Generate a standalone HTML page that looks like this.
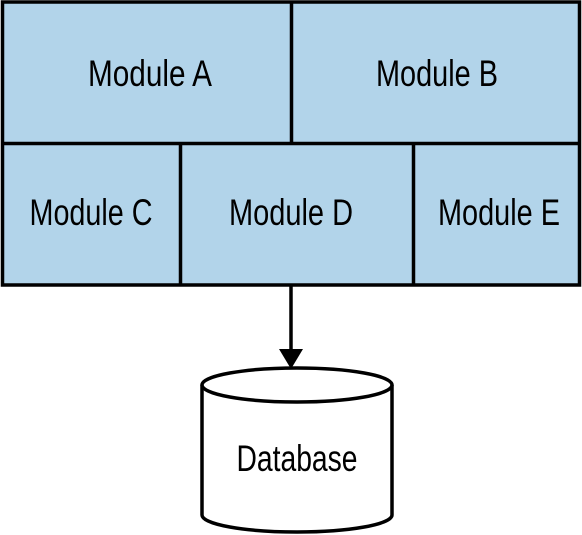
<!DOCTYPE html>
<html><head><meta charset="utf-8"><style>html,body{margin:0;padding:0;background:#fff}svg{display:block}</style></head>
<body>
<svg width="582" height="535" viewBox="0 0 582 535" xmlns="http://www.w3.org/2000/svg" font-family="'Liberation Sans', sans-serif" font-size="37">
  <g stroke="#000" stroke-width="3.5" fill="#b2d4ea">
    <rect x="2.5" y="2" width="577" height="283"/>
    <line x1="2.5" y1="143.5" x2="579.5" y2="143.5"/>
    <line x1="291.5" y1="2" x2="291.5" y2="143.5"/>
    <line x1="180.5" y1="143.5" x2="180.5" y2="285"/>
    <line x1="413.5" y1="143.5" x2="413.5" y2="285"/>
  </g>
  <g fill="#000" text-anchor="middle">
    <text x="150" y="86" textLength="124" lengthAdjust="spacingAndGlyphs">Module A</text>
    <text x="437" y="86" textLength="122" lengthAdjust="spacingAndGlyphs">Module B</text>
    <text x="91" y="225" textLength="123" lengthAdjust="spacingAndGlyphs">Module C</text>
    <text x="291" y="225" textLength="124" lengthAdjust="spacingAndGlyphs">Module D</text>
    <text x="499" y="225" textLength="122" lengthAdjust="spacingAndGlyphs">Module E</text>
  </g>
  <g>
    <line x1="291" y1="285" x2="291" y2="352" stroke="#000" stroke-width="3.5"/>
    <polygon points="279,349 303,349 291,369" fill="#000"/>
  </g>
  <g stroke="#000" stroke-width="3.5" fill="#fff">
    <path d="M202,385 L202,515 A95,17 0 0 0 392,515 L392,385"/>
    <ellipse cx="297" cy="385" rx="95" ry="17"/>
  </g>
  <text x="297" y="471" text-anchor="middle" textLength="121" lengthAdjust="spacingAndGlyphs" fill="#000">Database</text>
</svg>
</body></html>
